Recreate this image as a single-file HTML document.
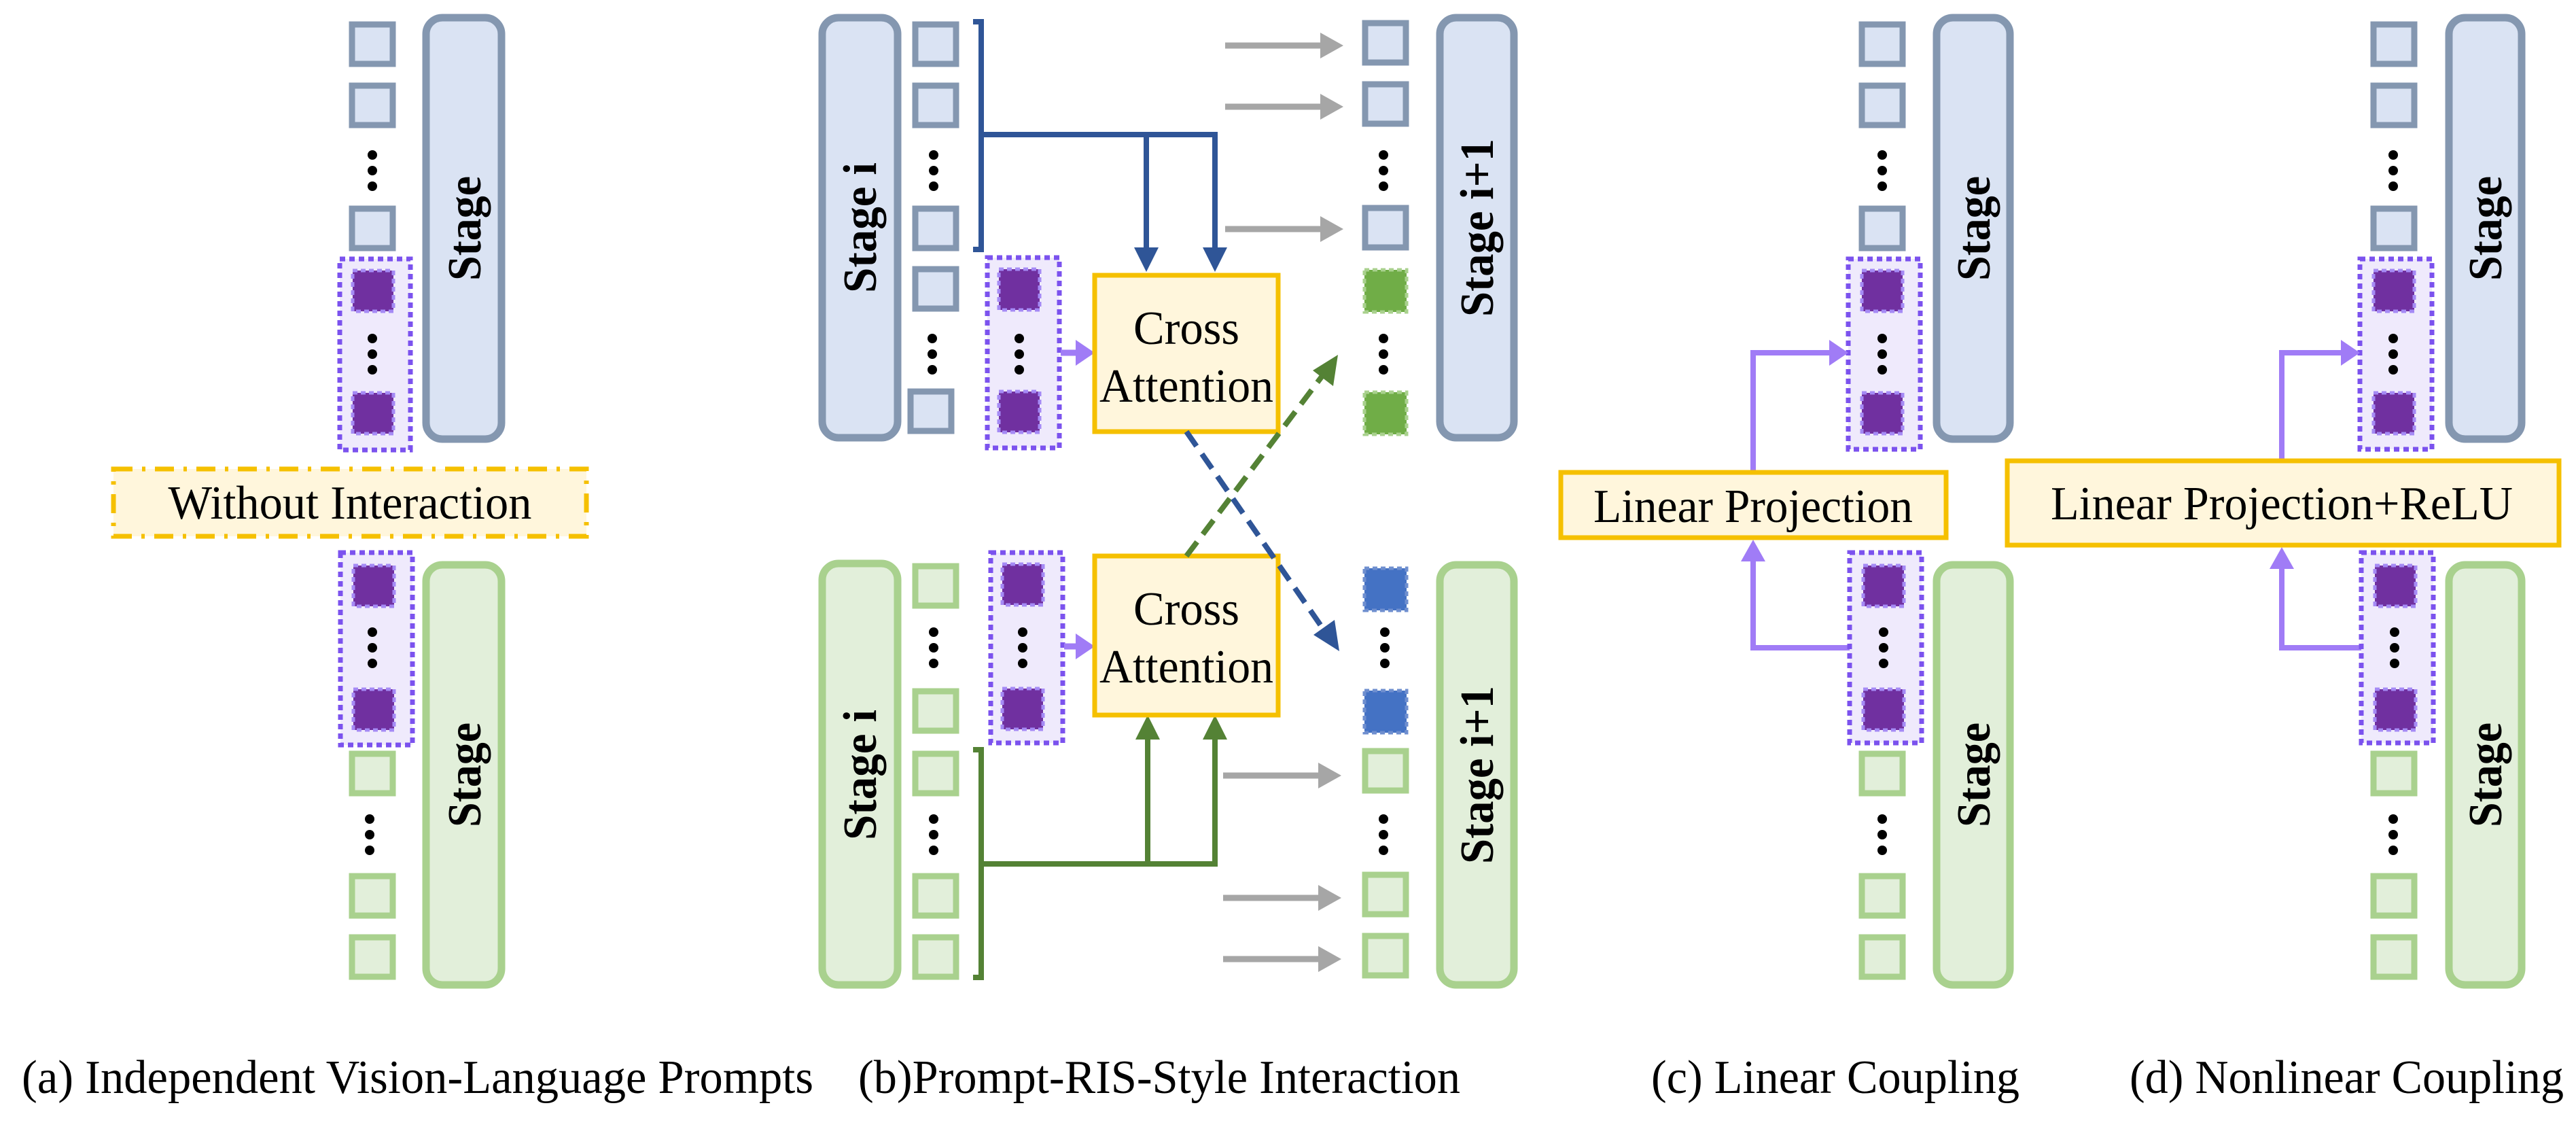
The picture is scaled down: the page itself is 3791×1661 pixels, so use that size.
<!DOCTYPE html>
<html><head><meta charset="utf-8"><style>html,body{margin:0;padding:0;background:#fff}svg{display:block}
svg text{font-family:"Liberation Serif","DejaVu Serif","Noto Serif CJK SC",serif !important}</style></head><body>
<svg width="3791" height="1661" viewBox="0 0 3791 1661" xmlns="http://www.w3.org/2000/svg" style="font-family:'Liberation Serif','DejaVu Serif',serif">
<defs>
<g id="B"><rect x="4" y="4" width="60" height="58" fill="#dae3f3" stroke="#8497b0" stroke-width="9"/></g>
<g id="GS"><rect x="4" y="4" width="60" height="58" fill="#e2efda" stroke="#a9d18e" stroke-width="9"/></g>
<g id="P"><rect x="3" y="3" width="60" height="60" fill="#7030a0" stroke="#a58af5" stroke-width="5" stroke-dasharray="7 5"/></g>
<g id="GR"><rect x="3" y="3" width="62" height="62" fill="#70ad47" stroke="#a9d18e" stroke-width="5" stroke-dasharray="7 5"/></g>
<g id="BL"><rect x="3" y="3" width="62" height="62" fill="#4472c4" stroke="#6f8fcf" stroke-width="5" stroke-dasharray="7 5"/></g>
<g id="D"><circle cx="0" cy="6" r="7" fill="#000"/><circle cx="0" cy="29" r="7" fill="#000"/><circle cx="0" cy="52" r="7" fill="#000"/></g>
<g id="GA"><line x1="0" y1="0" x2="148" y2="0" stroke="#a6a6a6" stroke-width="9"/><polygon points="140,-19 174,0 140,19" fill="#a6a6a6"/></g>
</defs>
<style>
.gb{fill:#efeafc;stroke:#7b52ee;stroke-width:7;stroke-dasharray:8 6}
.bb{fill:#dae3f3;stroke:#8497b0;stroke-width:11}
.gg{fill:#e2efda;stroke:#a9d18e;stroke-width:11}
.st{font-weight:bold;font-size:70px}
.yb{fill:#fff6dc;stroke:#f5c000;stroke-width:7}
.t{font-size:70px}
</style>
<g font-family="Liberation Serif, DejaVu Serif, serif">
<!-- Panel a -->
<use href="#B" x="514" y="32"/><use href="#B" x="514" y="122"/><use href="#D" x="548" y="222"/><use href="#B" x="514" y="303"/>
<rect class="gb" x="500" y="381" width="104" height="281"/>
<use href="#P" x="516" y="395"/><use href="#D" x="548" y="492"/><use href="#P" x="516" y="575"/>
<rect class="bb" x="627" y="26" width="111" height="620" rx="24"/>
<text class="st" transform="translate(707,336) rotate(-90)" text-anchor="middle" textLength="154" lengthAdjust="spacingAndGlyphs">Stage</text>
<rect x="167" y="690" width="696" height="99" fill="#fff6dc" stroke="#f5c000" stroke-width="7" stroke-dasharray="28 14 5 14"/>
<text class="t" x="515" y="763" text-anchor="middle" textLength="535" lengthAdjust="spacingAndGlyphs">Without Interaction</text>
<rect class="gb" x="501" y="813" width="106" height="283"/>
<use href="#P" x="517" y="829"/><use href="#D" x="548" y="924"/><use href="#P" x="517" y="1011"/>
<use href="#GS" x="514" y="1105"/><use href="#D" x="544" y="1199"/><use href="#GS" x="514" y="1285"/><use href="#GS" x="514" y="1375"/>
<rect class="gg" x="627" y="831" width="111" height="618" rx="24"/>
<text class="st" transform="translate(707,1140) rotate(-90)" text-anchor="middle" textLength="154" lengthAdjust="spacingAndGlyphs">Stage</text>

<!-- Panel b top -->
<rect class="bb" x="1210" y="26" width="111" height="618" rx="24"/>
<text class="st" transform="translate(1289,335) rotate(-90)" text-anchor="middle" textLength="192" lengthAdjust="spacingAndGlyphs">Stage i</text>
<use href="#B" x="1343" y="32"/><use href="#B" x="1343" y="122"/><use href="#D" x="1374" y="222"/><use href="#B" x="1343" y="303"/><use href="#B" x="1343" y="392"/><use href="#D" x="1372" y="492"/><use href="#B" x="1336" y="572"/>
<path d="M1432,32 H1444 V367 H1432 M1444,198 H1788 V370 M1687,198 V370" fill="none" stroke="#2f5597" stroke-width="8"/>
<polygon points="1669,364 1705,364 1687,400" fill="#2f5597"/><polygon points="1770,364 1806,364 1788,400" fill="#2f5597"/>
<rect class="gb" x="1453" y="379" width="106" height="280"/>
<use href="#P" x="1467" y="393"/><use href="#D" x="1500" y="492"/><use href="#P" x="1467" y="573"/>
<line x1="1561" y1="519" x2="1590" y2="519" stroke="#a07cf6" stroke-width="9"/><polygon points="1583,500 1611,519 1583,538" fill="#a07cf6"/>
<rect class="yb" x="1611" y="405" width="270" height="230"/>
<text class="t" x="1746" y="506" text-anchor="middle" textLength="156" lengthAdjust="spacingAndGlyphs">Cross</text>
<text class="t" x="1746" y="591" text-anchor="middle" textLength="256" lengthAdjust="spacingAndGlyphs">Attention</text>
<use href="#GA" x="1803" y="67"/><use href="#GA" x="1803" y="157"/><use href="#GA" x="1803" y="337"/>
<use href="#B" x="2005" y="30"/><use href="#B" x="2005" y="120"/><use href="#D" x="2036" y="222"/><use href="#B" x="2005" y="302"/><use href="#GR" x="2005" y="394"/><use href="#D" x="2036" y="492"/><use href="#GR" x="2005" y="574"/>
<rect class="bb" x="2119" y="26" width="109" height="618" rx="24"/>
<text class="st" transform="translate(2197,335) rotate(-90)" text-anchor="middle" textLength="262" lengthAdjust="spacingAndGlyphs">Stage i+1</text>

<!-- Panel b bottom -->
<rect class="gg" x="1210" y="829" width="111" height="620" rx="24"/>
<text class="st" transform="translate(1289,1140) rotate(-90)" text-anchor="middle" textLength="192" lengthAdjust="spacingAndGlyphs">Stage i</text>
<use href="#GS" x="1343" y="829"/><use href="#D" x="1374" y="924"/><use href="#GS" x="1343" y="1013"/><use href="#GS" x="1343" y="1105"/><use href="#D" x="1374" y="1199"/><use href="#GS" x="1343" y="1285"/><use href="#GS" x="1343" y="1375"/>
<path d="M1432,1103 H1444 V1438 H1432 M1444,1271 H1788 V1085 M1689,1271 V1085" fill="none" stroke="#548235" stroke-width="8"/>
<polygon points="1671,1088 1707,1088 1689,1052" fill="#548235"/><polygon points="1770,1088 1806,1088 1788,1052" fill="#548235"/>
<rect class="gb" x="1458" y="813" width="106" height="280"/>
<use href="#P" x="1472" y="827"/><use href="#D" x="1505" y="924"/><use href="#P" x="1472" y="1010"/>
<line x1="1566" y1="951" x2="1590" y2="951" stroke="#a07cf6" stroke-width="9"/><polygon points="1583,932 1611,951 1583,970" fill="#a07cf6"/>
<rect class="yb" x="1611" y="818" width="270" height="234"/>
<text class="t" x="1746" y="919" text-anchor="middle" textLength="156" lengthAdjust="spacingAndGlyphs">Cross</text>
<text class="t" x="1746" y="1004" text-anchor="middle" textLength="256" lengthAdjust="spacingAndGlyphs">Attention</text>
<use href="#GA" x="1800" y="1141"/><use href="#GA" x="1800" y="1321"/><use href="#GA" x="1800" y="1411"/>
<use href="#BL" x="2005" y="833"/><use href="#D" x="2038" y="924"/><use href="#BL" x="2005" y="1013"/>
<use href="#GS" x="2005" y="1101"/><use href="#D" x="2036" y="1199"/><use href="#GS" x="2005" y="1283"/><use href="#GS" x="2005" y="1373"/>
<rect class="gg" x="2119" y="831" width="109" height="618" rx="24"/>
<text class="st" transform="translate(2197,1140) rotate(-90)" text-anchor="middle" textLength="262" lengthAdjust="spacingAndGlyphs">Stage i+1</text>

<!-- crossing dashed arrows -->
<line x1="1746" y1="818" x2="1952" y2="545" stroke="#548235" stroke-width="8" stroke-dasharray="26 14"/>
<polygon points="1969,522 1962,568 1932,545" fill="#548235"/>
<line x1="1746" y1="635" x2="1954" y2="935" stroke="#2f5597" stroke-width="8" stroke-dasharray="26 14"/>
<polygon points="1971,958 1933,934 1964,912" fill="#2f5597"/>

<!-- Panel c -->
<use href="#B" x="2736" y="32"/><use href="#B" x="2736" y="122"/><use href="#D" x="2770" y="222"/><use href="#B" x="2736" y="303"/>
<rect class="gb" x="2720" y="381" width="106" height="280"/>
<use href="#P" x="2737" y="395"/><use href="#D" x="2770" y="492"/><use href="#P" x="2737" y="575"/>
<rect class="bb" x="2850" y="26" width="108" height="620" rx="24"/>
<text class="st" transform="translate(2928,336) rotate(-90)" text-anchor="middle" textLength="154" lengthAdjust="spacingAndGlyphs">Stage</text>
<path d="M2580,695 V519 H2700 M2723,953 H2580 V820" fill="none" stroke="#a07cf6" stroke-width="8"/>
<polygon points="2692,500 2720,519 2692,538" fill="#a07cf6"/><polygon points="2562,826 2580,794 2598,826" fill="#a07cf6"/>
<rect class="yb" x="2297" y="695" width="567" height="96"/>
<text class="t" x="2580" y="768" text-anchor="middle" textLength="470" lengthAdjust="spacingAndGlyphs">Linear Projection</text>
<rect class="gb" x="2722" y="813" width="106" height="280"/>
<use href="#P" x="2739" y="829"/><use href="#D" x="2772" y="924"/><use href="#P" x="2739" y="1011"/>
<use href="#GS" x="2736" y="1105"/><use href="#D" x="2770" y="1199"/><use href="#GS" x="2736" y="1285"/><use href="#GS" x="2736" y="1375"/>
<rect class="gg" x="2850" y="831" width="108" height="618" rx="24"/>
<text class="st" transform="translate(2928,1140) rotate(-90)" text-anchor="middle" textLength="154" lengthAdjust="spacingAndGlyphs">Stage</text>

<!-- Panel d -->
<use href="#B" x="3489" y="32"/><use href="#B" x="3489" y="122"/><use href="#D" x="3522" y="222"/><use href="#B" x="3489" y="303"/>
<rect class="gb" x="3473" y="381" width="106" height="280"/>
<use href="#P" x="3490" y="395"/><use href="#D" x="3522" y="492"/><use href="#P" x="3490" y="575"/>
<rect class="bb" x="3604" y="26" width="107" height="620" rx="24"/>
<text class="st" transform="translate(3681,336) rotate(-90)" text-anchor="middle" textLength="154" lengthAdjust="spacingAndGlyphs">Stage</text>
<path d="M3358,678 V519 H3453 M3476,953 H3358 V830" fill="none" stroke="#a07cf6" stroke-width="8"/>
<polygon points="3445,500 3473,519 3445,538" fill="#a07cf6"/><polygon points="3340,837 3358,805 3376,837" fill="#a07cf6"/>
<rect class="yb" x="2954" y="678" width="812" height="124"/>
<text class="t" x="3358" y="764" text-anchor="middle" textLength="680" lengthAdjust="spacingAndGlyphs">Linear Projection+ReLU</text>
<rect class="gb" x="3475" y="813" width="106" height="280"/>
<use href="#P" x="3492" y="829"/><use href="#D" x="3524" y="924"/><use href="#P" x="3492" y="1011"/>
<use href="#GS" x="3489" y="1105"/><use href="#D" x="3522" y="1199"/><use href="#GS" x="3489" y="1285"/><use href="#GS" x="3489" y="1375"/>
<rect class="gg" x="3604" y="831" width="107" height="618" rx="24"/>
<text class="st" transform="translate(3681,1140) rotate(-90)" text-anchor="middle" textLength="154" lengthAdjust="spacingAndGlyphs">Stage</text>

<!-- captions -->
<text class="t" x="32" y="1608" textLength="1165" lengthAdjust="spacingAndGlyphs">(a) Independent Vision-Language Prompts</text>
<text class="t" x="1263" y="1608" textLength="886" lengthAdjust="spacingAndGlyphs">(b)Prompt-RIS-Style Interaction</text>
<text class="t" x="2430" y="1608" textLength="542" lengthAdjust="spacingAndGlyphs">(c) Linear Coupling</text>
<text class="t" x="3134" y="1608" textLength="639" lengthAdjust="spacingAndGlyphs">(d) Nonlinear Coupling</text>
</g>
</svg>
</body></html>
